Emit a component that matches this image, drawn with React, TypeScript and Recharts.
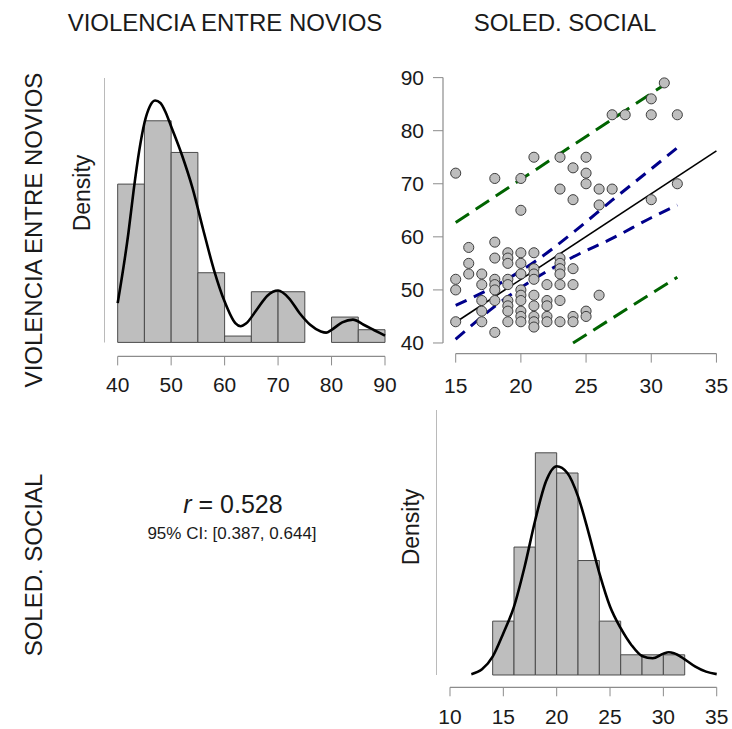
import React from "react";
import {
  ComposedChart,
  Line,
  ReferenceArea,
  ReferenceLine,
  Scatter,
  XAxis,
  YAxis,
  ZAxis,
} from "recharts";

const FONT = "'Liberation Sans', Arial, Helvetica, sans-serif";
const AXIS_GREY = "#8c8c8c";
const TEXT = "#1a1a1a";
const BAR_FILL = "#bebebe";
const BAR_EDGE = "#4a4a4a";

// VIOLENCIA ENTRE NOVIOS, histogram with bins of width 5 (counts)
const vioBins = [40, 45, 50, 55, 60, 65, 70, 75, 80, 85];
const vioCounts = [25, 35, 30, 11, 1, 8, 8, 0, 4, 2];
const vioTicks = [40, 50, 60, 70, 80, 90];
// density curve
const vioCurveX = [40, 42, 43, 44, 45, 46, 47, 48, 49, 50, 52, 54, 56, 58, 60, 62, 63, 64, 66, 68, 70, 72, 74, 76, 78, 79, 80, 82, 84, 86, 88, 90];
const vioCurveY = [0.01, 0.0278, 0.0389, 0.0486, 0.0559, 0.0601, 0.0616, 0.061, 0.0585, 0.055, 0.0478, 0.0393, 0.0287, 0.0185, 0.0104, 0.0049, 0.0041, 0.0048, 0.0083, 0.0119, 0.0132, 0.0113, 0.0075, 0.0045, 0.0028, 0.0025, 0.0032, 0.0051, 0.0058, 0.0045, 0.0031, 0.0017];

// SOLED. SOCIAL, histogram with bins of width 2 (counts)
const solBins = [14, 16, 18, 20, 22, 24, 26, 28, 30];
const solCounts = [8, 19, 33, 30, 17, 8, 3, 3, 3];
const solTicks = [10, 15, 20, 25, 30, 35];
const solCurveX = [12, 13, 14, 15, 16, 17, 18, 19, 20, 21, 22, 23, 24, 25, 26, 27, 28, 29, 30, 30.5, 31, 32, 33, 34, 35];
const solCurveY = [0.0005, 0.0034, 0.011, 0.025, 0.041, 0.065, 0.093, 0.116, 0.125, 0.121, 0.107, 0.085, 0.061, 0.041, 0.028, 0.018, 0.0114, 0.01, 0.0128, 0.0136, 0.013, 0.0094, 0.005, 0.002, 0.0005];

// scatter: SOLED. SOCIAL (x) vs VIOLENCIA ENTRE NOVIOS (y)
const scatterColumns: [number, number[]][] = [
  [15, [72, 52, 50, 44]],
  [16, [58, 55, 53]],
  [17, [53, 51, 48, 46, 44]],
  [18, [71, 59, 56, 52, 51, 50, 48, 42]],
  [19, [57, 56, 55, 52, 51, 48, 47, 46, 44]],
  [20, [71, 65, 57, 55, 53, 50, 49, 48, 46, 45, 44]],
  [21, [75, 57, 54, 53, 52, 49, 47, 45, 44, 43]],
  [22, [51, 48, 47, 45, 44]],
  [23, [75, 69, 56, 55, 54, 53, 51, 48, 44]],
  [24, [73, 67, 54, 51, 45, 44]],
  [25, [75, 72, 70, 46, 45]],
  [26, [69, 66, 49]],
  [27, [83, 69]],
  [28, [83]],
  [30, [86, 83, 67]],
  [31, [89]],
  [32, [83, 70]],
];
const scatterXTicks = [15, 20, 25, 30, 35];
const scatterYTicks = [40, 50, 60, 70, 80, 90];

const fitX = [15, 35];
const fitY = [43.9, 76.2];
const ciX = [15, 18, 21, 24, 27, 30, 32];
const ciUpper = [47.1, 50.7, 55.2, 60.8, 66.9, 72.8, 76.8];
const ciLower = [40.7, 46.9, 52.0, 56.2, 59.7, 63.6, 66.0];
const piUpperX = [15, 31.1];
const piUpperY = [62.7, 88.8];
const piLowerX = [24, 32];
const piLowerY = [40, 52.4];

const tickStyle = { fontSize: 21, fill: TEXT, fontFamily: FONT };

const toPoints = (xs: number[], ys: number[]) => xs.map((x, i) => ({ x, y: ys[i] }));

type HistProps = {
  left: number;
  top: number;
  width: number;
  plotHeight: number;
  axisHeight: number;
  xDomain: [number, number];
  yDomain: [number, number];
  bins: number[];
  binWidth: number;
  counts: number[];
  ticks: number[];
  curveX: number[];
  curveY: number[];
  tickMargin: number;
};

function Histogram(p: HistProps) {
  const total = p.counts.reduce((a, b) => a + b, 0);
  const rects = p.bins.map((b, i) => ({
    x1: b,
    x2: b + p.binWidth,
    d: p.counts[i] / (total * p.binWidth),
  }));
  const curve = toPoints(p.curveX, p.curveY);
  const [yMin, yMax] = p.yDomain;
  return (
    <div style={{ position: "absolute", left: p.left, top: p.top }}>
      <ComposedChart
        width={p.width}
        height={p.plotHeight + p.axisHeight}
        margin={{ top: 0, right: 0, bottom: 0, left: 0 }}
      >
        <XAxis
          type="number"
          dataKey="x"
          domain={p.xDomain}
          allowDataOverflow
          ticks={p.ticks}
          interval={0}
          axisLine={false}
          tickLine={{ stroke: AXIS_GREY }}
          tickSize={9}
          tickMargin={p.tickMargin}
          height={p.axisHeight}
          tick={tickStyle}
        />
        <YAxis type="number" domain={p.yDomain} allowDataOverflow hide />
        {rects.map((r) => (
          <ReferenceArea
            key={r.x1}
            x1={r.x1}
            x2={r.x2}
            y1={0}
            y2={r.d}
            fill={BAR_FILL}
            fillOpacity={1}
            stroke={BAR_EDGE}
            strokeWidth={1}
            ifOverflow="visible"
          />
        ))}
        <ReferenceLine
          segment={[
            { x: p.xDomain[0], y: 0 },
            { x: p.xDomain[0], y: yMax },
          ]}
          stroke={AXIS_GREY}
          strokeWidth={1.2}
          ifOverflow="visible"
        />
        <ReferenceLine
          segment={[
            { x: p.ticks[0], y: yMin },
            { x: p.ticks[p.ticks.length - 1], y: yMin },
          ]}
          stroke={AXIS_GREY}
          strokeWidth={1.2}
          ifOverflow="visible"
        />
        <Line
          data={curve}
          dataKey="y"
          type="monotone"
          stroke="#000"
          strokeWidth={2.6}
          dot={false}
          isAnimationActive={false}
        />
      </ComposedChart>
    </div>
  );
}

function ScatterPanel() {
  const points = scatterColumns.flatMap(([x, ys]) => ys.map((y) => ({ x, y })));
  const xDomain: [number, number] = [14.026, 35.97];
  const yDomain: [number, number] = [38, 92];
  const yAxisWidth = 60;
  return (
    <div style={{ position: "absolute", left: 443.3 - yAxisWidth, top: 66.7 }}>
      <ComposedChart
        width={yAxisWidth + 286.1}
        height={286.6 + 50}
        margin={{ top: 0, right: 0, bottom: 0, left: 0 }}
      >
        <XAxis
          type="number"
          dataKey="x"
          domain={xDomain}
          allowDataOverflow
          ticks={scatterXTicks}
          interval={0}
          axisLine={false}
          tickLine={{ stroke: AXIS_GREY }}
          tickSize={9}
          tickMargin={15}
          height={50}
          tick={tickStyle}
        />
        <YAxis
          type="number"
          dataKey="y"
          domain={yDomain}
          allowDataOverflow
          ticks={scatterYTicks}
          interval={0}
          axisLine={false}
          tickLine={{ stroke: AXIS_GREY }}
          tickSize={10}
          tickMargin={9}
          width={yAxisWidth}
          tick={tickStyle}
        />
        <ZAxis range={[80, 80]} />
        <ReferenceLine
          segment={[
            { x: xDomain[0], y: 40 },
            { x: xDomain[0], y: 90 },
          ]}
          stroke={AXIS_GREY}
          strokeWidth={1.2}
          ifOverflow="visible"
        />
        <ReferenceLine
          segment={[
            { x: 15, y: yDomain[0] },
            { x: 35, y: yDomain[0] },
          ]}
          stroke={AXIS_GREY}
          strokeWidth={1.2}
          ifOverflow="visible"
        />
        <Scatter
          data={points}
          fill={BAR_FILL}
          stroke="#3d3d3d"
          strokeWidth={1}
          isAnimationActive={false}
        />
        <Line data={toPoints(piUpperX, piUpperY)} dataKey="y" type="linear" stroke="#006400" strokeWidth={3} strokeDasharray="16 8" dot={false} isAnimationActive={false} />
        <Line data={toPoints(piLowerX, piLowerY)} dataKey="y" type="linear" stroke="#006400" strokeWidth={3} strokeDasharray="16 8" dot={false} isAnimationActive={false} />
        <Line data={toPoints(ciX, ciUpper)} dataKey="y" type="monotone" stroke="#00008b" strokeWidth={3} strokeDasharray="12 8" dot={false} isAnimationActive={false} />
        <Line data={toPoints(ciX, ciLower)} dataKey="y" type="monotone" stroke="#00008b" strokeWidth={3} strokeDasharray="12 8" dot={false} isAnimationActive={false} />
        <Line data={toPoints(fitX, fitY)} dataKey="y" type="linear" stroke="#000" strokeWidth={1.6} dot={false} isAnimationActive={false} />
      </ComposedChart>
    </div>
  );
}

function Labels() {
  const big = { fontFamily: FONT, fontSize: 24, fill: TEXT };
  const dens = { fontFamily: FONT, fontSize: 23, fill: TEXT };
  return (
    <svg
      width={732}
      height={729}
      style={{ position: "absolute", left: 0, top: 0, pointerEvents: "none" }}
    >
      <text x={225} y={31} textAnchor="middle" {...big}>VIOLENCIA ENTRE NOVIOS</text>
      <text x={565} y={31} textAnchor="middle" {...big}>SOLED. SOCIAL</text>
      <text transform="translate(42,230) rotate(-90)" textAnchor="middle" {...big}>VIOLENCIA ENTRE NOVIOS</text>
      <text transform="translate(42,565) rotate(-90)" textAnchor="middle" {...big}>SOLED. SOCIAL</text>
      <text transform="translate(90,193) rotate(-90)" textAnchor="middle" {...dens}>Density</text>
      <text transform="translate(419,527) rotate(-90)" textAnchor="middle" {...dens}>Density</text>
      <text x={233} y={513} textAnchor="middle" fontFamily={FONT} fontSize={25} fill={TEXT}>
        <tspan fontStyle="italic">r</tspan> = 0.528
      </text>
      <text x={232} y={539} textAnchor="middle" fontFamily={FONT} fontSize={17} fill={TEXT}>
        95% CI: [0.387, 0.644]
      </text>
    </svg>
  );
}

export default function App() {
  return (
    <div
      style={{
        position: "absolute",
        left: 0,
        top: 0,
        width: 732,
        height: 729,
        overflow: "hidden",
        background: "#fff",
      }}
    >
      <Labels />
      <Histogram
        left={104}
        top={78.3}
        width={294.7}
        plotHeight={278.4}
        axisHeight={50}
        xDomain={[37.44, 92.56]}
        yDomain={[-0.003566, 0.06735]}
        bins={vioBins}
        binWidth={5}
        counts={vioCounts}
        ticks={vioTicks}
        curveX={vioCurveX}
        curveY={vioCurveY}
        tickMargin={12}
      />
      <ScatterPanel />
      <Histogram
        left={436}
        top={410}
        width={294.7}
        plotHeight={277.3}
        axisHeight={40}
        xDomain={[8.688, 36.31]}
        yDomain={[-0.00737, 0.1587]}
        bins={solBins}
        binWidth={2}
        counts={solCounts}
        ticks={solTicks}
        curveX={solCurveX}
        curveY={solCurveY}
        tickMargin={13}
      />
    </div>
  );
}
